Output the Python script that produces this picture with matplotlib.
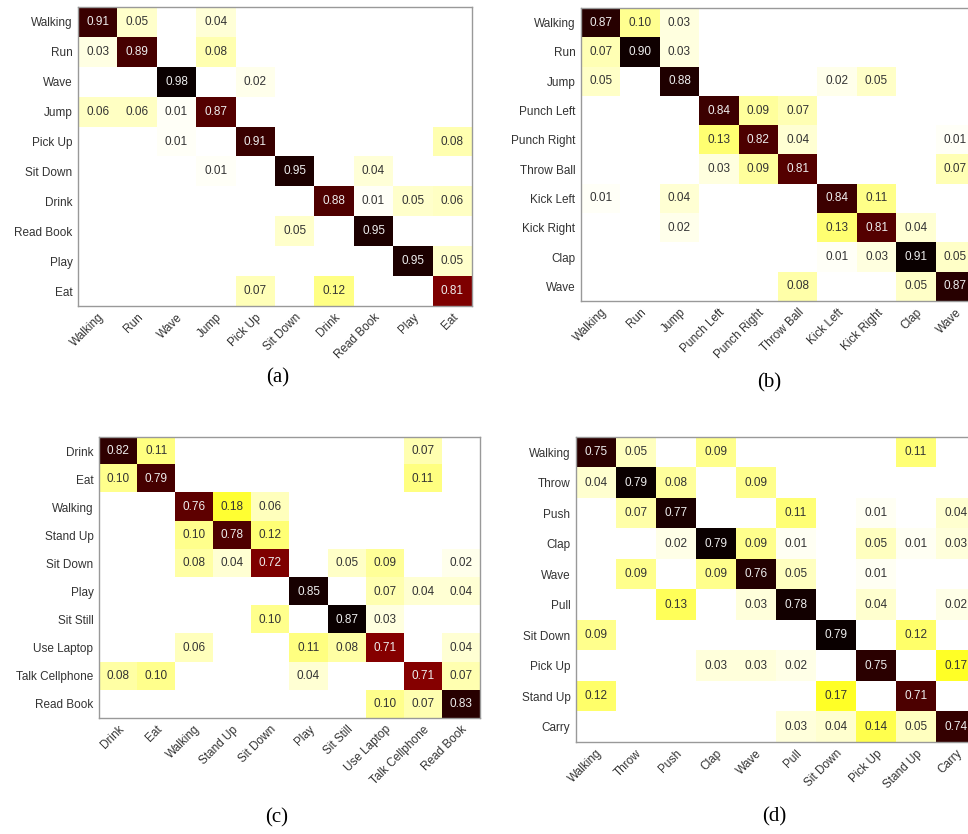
import numpy as np
import matplotlib.pyplot as plt

plt.rcParams['font.family'] = ['Liberation Sans', 'DejaVu Sans']

labels_a = ['Walking', 'Run', 'Wave', 'Jump', 'Pick Up', 'Sit Down', 'Drink',
            'Read Book', 'Play', 'Eat']
cm_a = [
    [0.91, 0.05, 0, 0.04, 0, 0, 0, 0, 0, 0],
    [0.03, 0.89, 0, 0.08, 0, 0, 0, 0, 0, 0],
    [0, 0, 0.98, 0, 0.02, 0, 0, 0, 0, 0],
    [0.06, 0.06, 0.01, 0.87, 0, 0, 0, 0, 0, 0],
    [0, 0, 0.01, 0, 0.91, 0, 0, 0, 0, 0.08],
    [0, 0, 0, 0.01, 0, 0.95, 0, 0.04, 0, 0],
    [0, 0, 0, 0, 0, 0, 0.88, 0.01, 0.05, 0.06],
    [0, 0, 0, 0, 0, 0.05, 0, 0.95, 0, 0],
    [0, 0, 0, 0, 0, 0, 0, 0, 0.95, 0.05],
    [0, 0, 0, 0, 0.07, 0, 0.12, 0, 0, 0.81],
]

labels_b = ['Walking', 'Run', 'Jump', 'Punch Left', 'Punch Right', 'Throw Ball',
            'Kick Left', 'Kick Right', 'Clap', 'Wave']
cm_b = [
    [0.87, 0.10, 0.03, 0, 0, 0, 0, 0, 0, 0],
    [0.07, 0.90, 0.03, 0, 0, 0, 0, 0, 0, 0],
    [0.05, 0, 0.88, 0, 0, 0, 0.02, 0.05, 0, 0],
    [0, 0, 0, 0.84, 0.09, 0.07, 0, 0, 0, 0],
    [0, 0, 0, 0.13, 0.82, 0.04, 0, 0, 0, 0.01],
    [0, 0, 0, 0.03, 0.09, 0.81, 0, 0, 0, 0.07],
    [0.01, 0, 0.04, 0, 0, 0, 0.84, 0.11, 0, 0],
    [0, 0, 0.02, 0, 0, 0, 0.13, 0.81, 0.04, 0],
    [0, 0, 0, 0, 0, 0, 0.01, 0.03, 0.91, 0.05],
    [0, 0, 0, 0, 0, 0.08, 0, 0, 0.05, 0.87],
]

labels_c = ['Drink', 'Eat', 'Walking', 'Stand Up', 'Sit Down', 'Play', 'Sit Still',
            'Use Laptop', 'Talk Cellphone', 'Read Book']
cm_c = [
    [0.82, 0.11, 0, 0, 0, 0, 0, 0, 0.07, 0],
    [0.10, 0.79, 0, 0, 0, 0, 0, 0, 0.11, 0],
    [0, 0, 0.76, 0.18, 0.06, 0, 0, 0, 0, 0],
    [0, 0, 0.10, 0.78, 0.12, 0, 0, 0, 0, 0],
    [0, 0, 0.08, 0.04, 0.72, 0, 0.05, 0.09, 0, 0.02],
    [0, 0, 0, 0, 0, 0.85, 0, 0.07, 0.04, 0.04],
    [0, 0, 0, 0, 0.10, 0, 0.87, 0.03, 0, 0],
    [0, 0, 0.06, 0, 0, 0.11, 0.08, 0.71, 0, 0.04],
    [0.08, 0.10, 0, 0, 0, 0.04, 0, 0, 0.71, 0.07],
    [0, 0, 0, 0, 0, 0, 0, 0.10, 0.07, 0.83],
]

labels_d = ['Walking', 'Throw', 'Push', 'Clap', 'Wave', 'Pull', 'Sit Down',
            'Pick Up', 'Stand Up', 'Carry']
cm_d = [
    [0.75, 0.05, 0, 0.09, 0, 0, 0, 0, 0.11, 0],
    [0.04, 0.79, 0.08, 0, 0.09, 0, 0, 0, 0, 0],
    [0, 0.07, 0.77, 0, 0, 0.11, 0, 0.01, 0, 0.04],
    [0, 0, 0.02, 0.79, 0.09, 0.01, 0, 0.05, 0.01, 0.03],
    [0, 0.09, 0, 0.09, 0.76, 0.05, 0, 0.01, 0, 0],
    [0, 0, 0.13, 0, 0.03, 0.78, 0, 0.04, 0, 0.02],
    [0.09, 0, 0, 0, 0, 0, 0.79, 0, 0.12, 0],
    [0, 0, 0, 0.03, 0.03, 0.02, 0, 0.75, 0, 0.17],
    [0.12, 0, 0, 0, 0, 0, 0.17, 0, 0.71, 0],
    [0, 0, 0, 0, 0, 0.03, 0.04, 0.14, 0.05, 0.74],
]

W, H = 968, 834
fig = plt.figure(figsize=(W / 100, H / 100), dpi=100)


def draw(rect_px, cm, labels, tag, tag_xy):
    l, t, w, h = rect_px
    ax = fig.add_axes([l / W, 1 - (t + h) / H, w / W, h / H])
    cm = np.array(cm)
    # colour scale runs up to the largest entry of each matrix
    ax.imshow(cm, cmap='hot_r', vmin=0, vmax=cm.max(), aspect='auto',
              interpolation='nearest')
    n = len(labels)
    for i in range(n):
        for j in range(n):
            v = cm[i, j]
            if v > 0:
                ax.text(j, i, f'{v:.2f}', ha='center', va='center', fontsize=8.5,
                        color='#eeeeee' if v > 0.5 else '#333333')
    ax.set_xticks(range(n))
    ax.set_yticks(range(n))
    ax.set_xticklabels(labels, rotation=45, ha='right', rotation_mode='anchor',
                       fontsize=8.5, color='#333333')
    ax.set_yticklabels(labels, fontsize=8.5, color='#333333')
    ax.tick_params(length=0, pad=4)
    for s in ax.spines.values():
        s.set_color('#999999')
        s.set_linewidth(1)
    fig.text(tag_xy[0] / W, 1 - tag_xy[1] / H, tag, ha='center', va='center',
             fontsize=15, family='Liberation Serif')


draw((78, 7, 394, 299), cm_a, labels_a, '(a)', (278, 378))
draw((581, 8, 394, 293), cm_b, labels_b, '(b)', (769, 383))
draw((99, 437, 381, 281), cm_c, labels_c, '(c)', (277, 818))
draw((576, 437, 400, 305), cm_d, labels_d, '(d)', (774, 817))

fig.savefig('out.png', dpi=100)
